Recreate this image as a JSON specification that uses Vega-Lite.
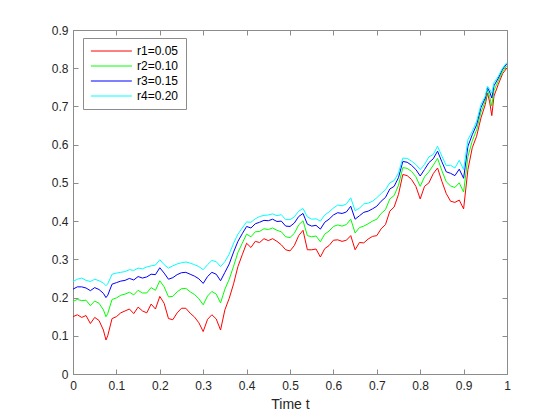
{
  "$schema": "https://vega.github.io/schema/vega-lite/v6.json",
  "width": 434,
  "height": 344,
  "autosize": {"type": "none"},
  "padding": {"left": 73, "top": 30, "right": 53, "bottom": 46},
  "background": "white",
  "config": {
    "view": {"stroke": "#8c8c8c", "strokeWidth": 1},
    "font": "Liberation Sans",
    "axis": {
      "grid": false,
      "domainColor": "#8c8c8c",
      "tickColor": "#8c8c8c",
      "labelColor": "#262626",
      "labelFont": "Liberation Sans",
      "labelFontSize": 12,
      "titleFont": "Liberation Sans",
      "titleFontSize": 14,
      "titleFontWeight": "normal",
      "titleColor": "#262626"
    }
  },
  "data": {
    "values": [
      {"t": 0.00, "r1": 0.150, "r2": 0.190, "r3": 0.222, "r4": 0.242},
      {"t": 0.01, "r1": 0.155, "r2": 0.195, "r3": 0.228, "r4": 0.248},
      {"t": 0.02, "r1": 0.148, "r2": 0.192, "r3": 0.228, "r4": 0.251},
      {"t": 0.03, "r1": 0.153, "r2": 0.193, "r3": 0.225, "r4": 0.245},
      {"t": 0.04, "r1": 0.132, "r2": 0.179, "r3": 0.218, "r4": 0.242},
      {"t": 0.05, "r1": 0.148, "r2": 0.191, "r3": 0.226, "r4": 0.248},
      {"t": 0.06, "r1": 0.140, "r2": 0.185, "r3": 0.221, "r4": 0.244},
      {"t": 0.07, "r1": 0.115, "r2": 0.168, "r3": 0.211, "r4": 0.238},
      {"t": 0.076, "r1": 0.089, "r2": 0.150, "r3": 0.200, "r4": 0.231},
      {"t": 0.08, "r1": 0.100, "r2": 0.158, "r3": 0.206, "r4": 0.236},
      {"t": 0.09, "r1": 0.145, "r2": 0.195, "r3": 0.235, "r4": 0.261},
      {"t": 0.10, "r1": 0.150, "r2": 0.199, "r3": 0.239, "r4": 0.264},
      {"t": 0.11, "r1": 0.160, "r2": 0.206, "r3": 0.243, "r4": 0.266},
      {"t": 0.12, "r1": 0.165, "r2": 0.209, "r3": 0.245, "r4": 0.268},
      {"t": 0.13, "r1": 0.170, "r2": 0.214, "r3": 0.250, "r4": 0.273},
      {"t": 0.14, "r1": 0.158, "r2": 0.207, "r3": 0.246, "r4": 0.271},
      {"t": 0.15, "r1": 0.175, "r2": 0.219, "r3": 0.255, "r4": 0.277},
      {"t": 0.16, "r1": 0.165, "r2": 0.212, "r3": 0.251, "r4": 0.275},
      {"t": 0.17, "r1": 0.160, "r2": 0.212, "r3": 0.254, "r4": 0.280},
      {"t": 0.18, "r1": 0.183, "r2": 0.226, "r3": 0.261, "r4": 0.283},
      {"t": 0.19, "r1": 0.170, "r2": 0.219, "r3": 0.260, "r4": 0.285},
      {"t": 0.20, "r1": 0.203, "r2": 0.244, "r3": 0.278, "r4": 0.299},
      {"t": 0.21, "r1": 0.185, "r2": 0.228, "r3": 0.264, "r4": 0.286},
      {"t": 0.22, "r1": 0.145, "r2": 0.202, "r3": 0.248, "r4": 0.277},
      {"t": 0.23, "r1": 0.142, "r2": 0.203, "r3": 0.252, "r4": 0.283},
      {"t": 0.24, "r1": 0.160, "r2": 0.215, "r3": 0.260, "r4": 0.288},
      {"t": 0.25, "r1": 0.172, "r2": 0.223, "r3": 0.265, "r4": 0.291},
      {"t": 0.26, "r1": 0.172, "r2": 0.224, "r3": 0.266, "r4": 0.293},
      {"t": 0.27, "r1": 0.159, "r2": 0.215, "r3": 0.261, "r4": 0.290},
      {"t": 0.28, "r1": 0.149, "r2": 0.208, "r3": 0.256, "r4": 0.286},
      {"t": 0.29, "r1": 0.134, "r2": 0.197, "r3": 0.249, "r4": 0.281},
      {"t": 0.30, "r1": 0.111, "r2": 0.181, "r3": 0.237, "r4": 0.273},
      {"t": 0.31, "r1": 0.143, "r2": 0.204, "r3": 0.255, "r4": 0.286},
      {"t": 0.32, "r1": 0.155, "r2": 0.216, "r3": 0.266, "r4": 0.297},
      {"t": 0.33, "r1": 0.144, "r2": 0.209, "r3": 0.261, "r4": 0.294},
      {"t": 0.34, "r1": 0.115, "r2": 0.186, "r3": 0.244, "r4": 0.281},
      {"t": 0.35, "r1": 0.168, "r2": 0.222, "r3": 0.266, "r4": 0.294},
      {"t": 0.36, "r1": 0.198, "r2": 0.248, "r3": 0.288, "r4": 0.314},
      {"t": 0.37, "r1": 0.236, "r2": 0.282, "r3": 0.319, "r4": 0.342},
      {"t": 0.38, "r1": 0.281, "r2": 0.318, "r3": 0.347, "r4": 0.366},
      {"t": 0.39, "r1": 0.312, "r2": 0.342, "r3": 0.367, "r4": 0.382},
      {"t": 0.40, "r1": 0.342, "r2": 0.366, "r3": 0.386, "r4": 0.398},
      {"t": 0.41, "r1": 0.331, "r2": 0.359, "r3": 0.382, "r4": 0.397},
      {"t": 0.42, "r1": 0.347, "r2": 0.372, "r3": 0.393, "r4": 0.406},
      {"t": 0.43, "r1": 0.344, "r2": 0.373, "r3": 0.397, "r4": 0.412},
      {"t": 0.44, "r1": 0.354, "r2": 0.380, "r3": 0.402, "r4": 0.415},
      {"t": 0.45, "r1": 0.349, "r2": 0.378, "r3": 0.401, "r4": 0.416},
      {"t": 0.46, "r1": 0.354, "r2": 0.382, "r3": 0.405, "r4": 0.419},
      {"t": 0.47, "r1": 0.347, "r2": 0.376, "r3": 0.399, "r4": 0.414},
      {"t": 0.48, "r1": 0.338, "r2": 0.372, "r3": 0.400, "r4": 0.417},
      {"t": 0.49, "r1": 0.325, "r2": 0.359, "r3": 0.387, "r4": 0.404},
      {"t": 0.50, "r1": 0.322, "r2": 0.357, "r3": 0.386, "r4": 0.404},
      {"t": 0.51, "r1": 0.336, "r2": 0.368, "r3": 0.395, "r4": 0.411},
      {"t": 0.52, "r1": 0.362, "r2": 0.390, "r3": 0.412, "r4": 0.426},
      {"t": 0.53, "r1": 0.376, "r2": 0.401, "r3": 0.420, "r4": 0.433},
      {"t": 0.54, "r1": 0.325, "r2": 0.362, "r3": 0.392, "r4": 0.411},
      {"t": 0.55, "r1": 0.325, "r2": 0.359, "r3": 0.387, "r4": 0.405},
      {"t": 0.56, "r1": 0.327, "r2": 0.361, "r3": 0.389, "r4": 0.406},
      {"t": 0.57, "r1": 0.306, "r2": 0.346, "r3": 0.379, "r4": 0.400},
      {"t": 0.58, "r1": 0.328, "r2": 0.366, "r3": 0.397, "r4": 0.416},
      {"t": 0.59, "r1": 0.336, "r2": 0.374, "r3": 0.405, "r4": 0.424},
      {"t": 0.60, "r1": 0.350, "r2": 0.386, "r3": 0.416, "r4": 0.434},
      {"t": 0.61, "r1": 0.351, "r2": 0.390, "r3": 0.422, "r4": 0.442},
      {"t": 0.62, "r1": 0.347, "r2": 0.387, "r3": 0.420, "r4": 0.440},
      {"t": 0.63, "r1": 0.350, "r2": 0.391, "r3": 0.424, "r4": 0.445},
      {"t": 0.64, "r1": 0.362, "r2": 0.405, "r3": 0.439, "r4": 0.461},
      {"t": 0.65, "r1": 0.325, "r2": 0.369, "r3": 0.405, "r4": 0.427},
      {"t": 0.66, "r1": 0.344, "r2": 0.383, "r3": 0.414, "r4": 0.434},
      {"t": 0.67, "r1": 0.343, "r2": 0.387, "r3": 0.423, "r4": 0.445},
      {"t": 0.68, "r1": 0.353, "r2": 0.393, "r3": 0.426, "r4": 0.447},
      {"t": 0.69, "r1": 0.360, "r2": 0.400, "r3": 0.432, "r4": 0.452},
      {"t": 0.70, "r1": 0.362, "r2": 0.405, "r3": 0.439, "r4": 0.461},
      {"t": 0.71, "r1": 0.380, "r2": 0.420, "r3": 0.452, "r4": 0.472},
      {"t": 0.72, "r1": 0.391, "r2": 0.430, "r3": 0.462, "r4": 0.482},
      {"t": 0.73, "r1": 0.426, "r2": 0.458, "r3": 0.484, "r4": 0.500},
      {"t": 0.74, "r1": 0.437, "r2": 0.467, "r3": 0.491, "r4": 0.506},
      {"t": 0.75, "r1": 0.470, "r2": 0.494, "r3": 0.514, "r4": 0.526},
      {"t": 0.76, "r1": 0.522, "r2": 0.540, "r3": 0.556, "r4": 0.565},
      {"t": 0.77, "r1": 0.519, "r2": 0.538, "r3": 0.554, "r4": 0.564},
      {"t": 0.78, "r1": 0.509, "r2": 0.530, "r3": 0.546, "r4": 0.557},
      {"t": 0.79, "r1": 0.491, "r2": 0.516, "r3": 0.535, "r4": 0.548},
      {"t": 0.80, "r1": 0.458, "r2": 0.491, "r3": 0.518, "r4": 0.535},
      {"t": 0.81, "r1": 0.491, "r2": 0.516, "r3": 0.535, "r4": 0.548},
      {"t": 0.82, "r1": 0.500, "r2": 0.529, "r3": 0.553, "r4": 0.568},
      {"t": 0.83, "r1": 0.524, "r2": 0.546, "r3": 0.563, "r4": 0.574},
      {"t": 0.84, "r1": 0.539, "r2": 0.564, "r3": 0.583, "r4": 0.596},
      {"t": 0.85, "r1": 0.504, "r2": 0.532, "r3": 0.555, "r4": 0.570},
      {"t": 0.86, "r1": 0.472, "r2": 0.503, "r3": 0.529, "r4": 0.545},
      {"t": 0.87, "r1": 0.452, "r2": 0.492, "r3": 0.525, "r4": 0.546},
      {"t": 0.88, "r1": 0.449, "r2": 0.488, "r3": 0.519, "r4": 0.539},
      {"t": 0.89, "r1": 0.455, "r2": 0.500, "r3": 0.536, "r4": 0.559},
      {"t": 0.90, "r1": 0.432, "r2": 0.476, "r3": 0.512, "r4": 0.535},
      {"t": 0.91, "r1": 0.535, "r2": 0.569, "r3": 0.596, "r4": 0.613},
      {"t": 0.92, "r1": 0.592, "r2": 0.610, "r3": 0.626, "r4": 0.635},
      {"t": 0.93, "r1": 0.622, "r2": 0.639, "r3": 0.652, "r4": 0.661},
      {"t": 0.94, "r1": 0.670, "r2": 0.685, "r3": 0.697, "r4": 0.705},
      {"t": 0.95, "r1": 0.705, "r2": 0.714, "r3": 0.722, "r4": 0.727},
      {"t": 0.955, "r1": 0.735, "r2": 0.743, "r3": 0.749, "r4": 0.753},
      {"t": 0.96, "r1": 0.712, "r2": 0.726, "r3": 0.738, "r4": 0.745},
      {"t": 0.965, "r1": 0.676, "r2": 0.701, "r3": 0.722, "r4": 0.735},
      {"t": 0.97, "r1": 0.727, "r2": 0.742, "r3": 0.754, "r4": 0.762},
      {"t": 0.98, "r1": 0.758, "r2": 0.767, "r3": 0.774, "r4": 0.779},
      {"t": 0.99, "r1": 0.786, "r2": 0.792, "r3": 0.798, "r4": 0.801},
      {"t": 1.00, "r1": 0.801, "r2": 0.807, "r3": 0.812, "r4": 0.815}
    ]
  },
  "transform": [
    {"fold": ["r1", "r2", "r3", "r4"], "as": ["series", "value"]}
  ],
  "resolve": {"axis": {"x": "independent", "y": "independent"}},
  "layer": [
    {
      "mark": {"type": "line", "strokeWidth": 1, "clip": true},
      "encoding": {
        "x": {
          "field": "t", "type": "quantitative",
          "scale": {"domain": [0, 1], "nice": false, "zero": false},
          "axis": {
            "orient": "bottom", "title": "Time t",
            "values": [0, 0.1, 0.2, 0.3, 0.4, 0.5, 0.6, 0.7, 0.8, 0.9, 1],
            "format": "~g", "tickSize": -5, "labelPadding": 11, "titlePadding": 6,
            "labelFlush": false, "labelOverlap": false
          }
        },
        "y": {
          "field": "value", "type": "quantitative",
          "scale": {"domain": [0, 0.9], "nice": false, "zero": false},
          "axis": {
            "orient": "left", "title": null,
            "values": [0, 0.1, 0.2, 0.3, 0.4, 0.5, 0.6, 0.7, 0.8, 0.9],
            "format": "~g", "tickSize": -5, "labelPadding": 10,
            "labelFlush": false, "labelOverlap": false
          }
        },
        "color": {
          "field": "series", "type": "nominal",
          "scale": {"domain": ["r1", "r2", "r3", "r4"], "range": ["#ff0000", "#00ff00", "#0000ff", "#00ffff"]},
          "legend": {
            "title": null,
            "orient": "none",
            "legendX": 10,
            "legendY": 8,
            "symbolType": "M-1,0H7",
            "symbolSize": 105,
            "symbolStrokeWidth": 1,
            "labelFontSize": 12,
            "labelColor": "#000000",
            "labelFont": "Liberation Sans",
            "labelOffset": 35,
            "rowPadding": 3,
            "padding": 7,
            "fillColor": "white",
            "strokeColor": "#8c8c8c",
            "labelExpr": "datum.label == 'r1' ? 'r1=0.05' : datum.label == 'r2' ? 'r2=0.10' : datum.label == 'r3' ? 'r3=0.15' : 'r4=0.20'"
          }
        }
      }
    },
    {
      "mark": {"type": "point", "opacity": 0},
      "encoding": {
        "x": {
          "field": "t", "type": "quantitative",
          "axis": {
            "orient": "top", "title": null, "labels": false, "domain": false,
            "values": [0, 0.1, 0.2, 0.3, 0.4, 0.5, 0.6, 0.7, 0.8, 0.9, 1],
            "tickSize": -5
          }
        },
        "y": {
          "field": "value", "type": "quantitative",
          "axis": {
            "orient": "right", "title": null, "labels": false, "domain": false,
            "values": [0, 0.1, 0.2, 0.3, 0.4, 0.5, 0.6, 0.7, 0.8, 0.9],
            "tickSize": -5
          }
        }
      }
    }
  ]
}
